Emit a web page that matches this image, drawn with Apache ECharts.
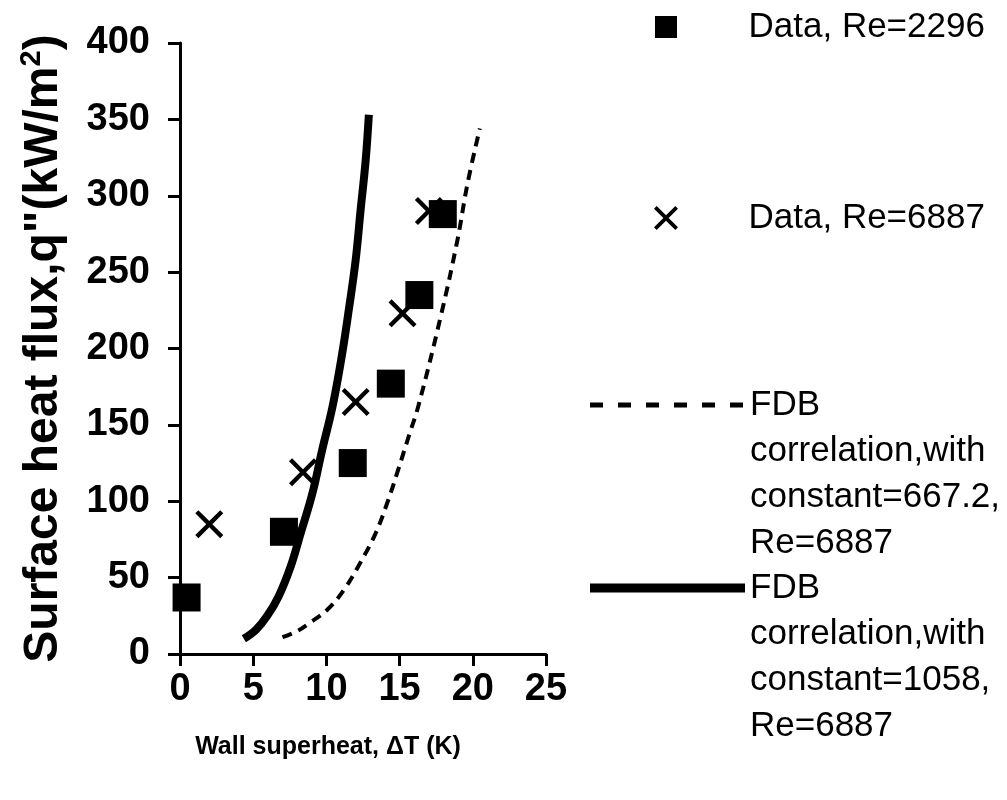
<!DOCTYPE html>
<html>
<head>
<meta charset="utf-8">
<script src="https://cdn.jsdelivr.net/npm/echarts@6/dist/echarts.min.js"></script>
<style>
  html, body { margin: 0; padding: 0; background: #fff; }
  #chart { width: 1007px; height: 800px; }
</style>
</head>
<body>
<div id="chart"></div>
<script>
// measured data, Re=2296 (squares)
var sqX = [0.45, 7.1, 11.8, 14.4, 16.35, 17.95];
var sqY = [37, 80, 125, 177, 235, 288];
// measured data, Re=6887 (crosses)
var crX = [2.0, 8.4, 12.0, 15.2, 17.0];
var crY = [85, 119, 165, 223, 290];
// FDB correlation, constant=667.2 (dashed)
var dashX = [7.0, 8.0, 8.8, 10.06, 11.2, 12.33, 13.36, 14.16, 14.85, 15.64, 16.3, 17.81, 18.95, 19.64, 20.48];
var dashY = [11, 15, 20, 29, 42, 60, 79, 99, 119, 143, 163, 221, 271, 308, 344];
// FDB correlation, constant=1058 (solid)
var solidX = [4.36, 5.2, 5.96, 6.75, 7.55, 8.24, 9.04, 9.72, 10.42, 11.05, 11.54, 12.0, 12.34, 12.68, 12.9];
var solidY = [10, 16, 25, 38, 57, 79, 105, 134, 162, 195, 226, 258, 291, 323, 353];

var xTicks = [0, 5, 10, 15, 20, 25];
var yTicks = [0, 50, 100, 150, 200, 250, 300, 350, 400];

var names = [
  'Data, Re=2296',
  'Data, Re=6887',
  'FDB\ncorrelation,with\nconstant=667.2,\nRe=6887',
  'FDB\ncorrelation,with\nconstant=1058,\nRe=6887'
];

function pairs(xs, ys) {
  return xs.map(function (x, i) { return [x, ys[i]]; });
}

var font = 'Liberation Sans, Arial, sans-serif';
var squarePath = 'path://M0,0 L10,0 L10,10 L0,10 Z';
// filled X shape for the cross marker
var crossPath = 'path://M0,11 L11,0 L50,39 L89,0 L100,11 L61,50 L100,89 L89,100 L50,61 L11,100 L0,89 L39,50 Z';

var textStyle = { fontFamily: font, fontSize: 35, color: '#000', lineHeight: 46 };

// legend for a marker series: the icon sits centred in a 155px slot
function markerLegend(name, icon, size, cx, cy) {
  return {
    data: [{ name: name, icon: icon }],
    left: cx - size / 2,
    top: cy - 23,
    padding: 0,
    itemWidth: 155,
    itemHeight: size,
    symbolKeepAspect: true,
    selectedMode: false,
    textStyle: textStyle
  };
}

// legend for a line series: first text line level with the line sample
function lineLegend(name, cy, lineStyle) {
  return {
    data: [name],
    left: 590 - lineStyle.width / 2,
    top: cy - 161,
    padding: 0,
    itemWidth: 155,
    itemHeight: 20,
    selectedMode: false,
    itemStyle: { opacity: 0 },
    lineStyle: lineStyle,
    formatter: function (n) { return '\n\n\n' + n; },
    textStyle: textStyle
  };
}

var chart = echarts.init(document.getElementById('chart'));
chart.setOption({
  backgroundColor: '#fff',
  animation: false,
  legend: [
    markerLegend(names[0], squarePath, 22, 666, 27),
    markerLegend(names[1], crossPath, 24, 666, 218),
    lineLegend(names[2], 405, { color: '#000', width: 5, type: [13, 15] }),
    lineLegend(names[3], 588, { color: '#000', width: 9, type: 'solid' })
  ],
  grid: {
    left: 180,
    right: 461,
    top: 43,
    bottom: 146,
    outerBoundsMode: 'none'
  },
  xAxis: {
    type: 'value',
    min: xTicks[0],
    max: xTicks[xTicks.length - 1],
    interval: 5,
    name: 'Wall superheat, \u0394T (K)',
    nameLocation: 'middle',
    nameGap: 81,
    nameTextStyle: {
      fontFamily: font, fontWeight: 'bold', fontSize: 25, color: '#000',
      padding: [0, 70, 0, 0]
    },
    axisLine: { lineStyle: { color: '#000', width: 3 } },
    axisTick: { inside: false, length: 12, lineStyle: { color: '#000', width: 3 } },
    axisLabel: { fontFamily: font, fontWeight: 'bold', fontSize: 38, color: '#000', margin: 17 },
    splitLine: { show: false }
  },
  yAxis: {
    type: 'value',
    min: yTicks[0],
    max: yTicks[yTicks.length - 1],
    interval: 50,
    name: 'Surface heat flux,q"(kW/m{sup|2})',
    nameLocation: 'middle',
    nameRotate: 90,
    nameGap: 110,
    nameTextStyle: {
      fontFamily: font, fontWeight: 'bold', fontSize: 48, color: '#000',
      rich: {
        sup: { fontFamily: font, fontWeight: 'bold', fontSize: 29, color: '#000', padding: [0, 0, 24, 0] }
      }
    },
    axisLine: { show: true, lineStyle: { color: '#000', width: 3 } },
    axisTick: { show: true, inside: false, length: 12, lineStyle: { color: '#000', width: 3 } },
    axisLabel: { fontFamily: font, fontWeight: 'bold', fontSize: 38, color: '#000', margin: 30 },
    splitLine: { show: false }
  },
  series: [
    {
      name: names[0],
      type: 'scatter',
      symbol: 'rect',
      symbolSize: 28,
      itemStyle: { color: '#000', opacity: 1 },
      data: pairs(sqX, sqY),
      z: 3
    },
    {
      name: names[1],
      type: 'scatter',
      symbol: crossPath,
      symbolSize: 28,
      itemStyle: { color: '#000', opacity: 1 },
      data: pairs(crX, crY),
      z: 4
    },
    {
      name: names[2],
      type: 'line',
      symbol: 'none',
      smooth: 0.4,
      lineStyle: { color: '#000', width: 4, type: [10, 7] },
      itemStyle: { color: '#000' },
      data: pairs(dashX, dashY),
      z: 2
    },
    {
      name: names[3],
      type: 'line',
      symbol: 'none',
      smooth: 0.4,
      lineStyle: { color: '#000', width: 8 },
      itemStyle: { color: '#000' },
      data: pairs(solidX, solidY),
      z: 2
    }
  ]
});
</script>
</body>
</html>
